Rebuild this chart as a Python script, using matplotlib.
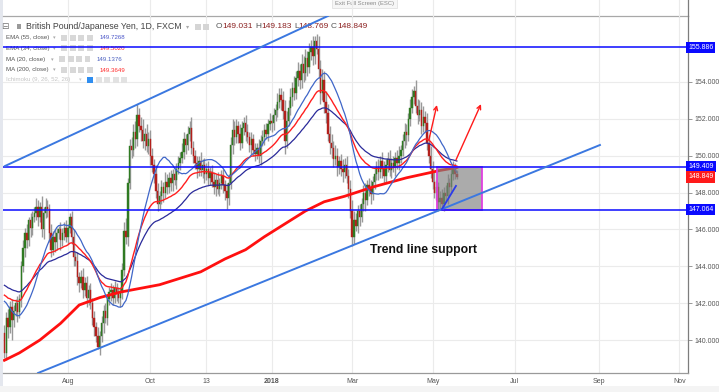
import numpy as np
import pandas as pd
import matplotlib
matplotlib.use("Agg")
import matplotlib.pyplot as plt
from matplotlib.patches import Rectangle, FancyArrowPatch
from matplotlib.lines import Line2D
from matplotlib.transforms import blended_transform_factory

plt.rcParams['font.family'] = ['Liberation Sans', 'DejaVu Sans']

W, H = 719, 392

# daily GBP/JPY bars, one per business day, first bar 2017-06-14
first_day = "2017-06-14"
closes = [
    139.3, 141.2, 140.7, 141.8, 141.1, 141.6, 142.0, 141.5, 142.2, 144.0,
    145.0, 145.8, 145.4, 146.5, 146.1, 146.7, 146.9, 147.2, 146.7, 147.2,
    146.0, 146.9, 147.2, 147.1, 145.8, 144.9, 145.6, 145.3, 145.8, 146.0,
    145.4, 145.8, 146.1, 145.6, 146.1, 146.7, 145.6, 144.5, 144.3, 143.4,
    143.1, 143.4, 142.7, 143.1, 142.3, 142.7, 142.0, 141.2, 140.7, 140.2,
    139.6, 140.2, 140.9, 141.6, 141.2, 142.2, 142.6, 142.7, 142.3, 142.8,
    142.5, 142.3, 142.6, 143.8, 145.9, 145.6, 148.5, 150.5, 150.3, 151.3,
    150.9, 152.2, 151.6, 151.4, 150.8, 151.2, 150.5, 150.9, 150.0, 149.5,
    149.0, 148.1, 147.4, 147.8, 148.3, 148.0, 148.6, 148.3, 148.8, 148.5,
    149.0, 148.7, 149.3, 149.6, 149.9, 150.2, 150.9, 150.6, 151.2, 151.5,
    150.4, 150.0, 149.6, 149.3, 149.7, 149.2, 149.5, 149.0, 149.3, 148.8,
    149.1, 148.6, 148.3, 148.7, 148.2, 148.5, 148.9, 148.4, 148.1, 147.7,
    148.5, 150.6, 151.4, 151.0, 151.6, 151.2, 150.7, 151.5, 151.8, 151.3,
    151.0, 150.6, 150.9, 150.3, 150.1, 150.4, 150.0, 150.8, 151.0, 151.4,
    151.2, 151.7, 151.9, 151.8, 152.2, 152.5, 152.9, 153.3, 153.0, 152.4,
    150.8, 151.9, 152.6, 153.2, 153.7, 153.4, 154.2, 154.6, 154.1, 155.0,
    154.5, 155.3, 154.8, 155.6, 155.9, 155.4, 156.2, 155.8, 154.7, 153.4,
    154.1, 152.9, 152.3, 151.2, 150.7, 150.4, 149.8, 150.0, 149.4, 149.7,
    149.3, 149.1, 149.5, 148.9, 148.2, 147.0, 145.6, 146.5, 146.2, 147.0,
    146.7, 147.4, 148.0, 147.6, 148.4, 148.2, 147.9, 148.6, 149.0, 149.4,
    149.1, 149.7, 149.3, 148.9, 149.5, 149.8, 149.2, 149.6, 149.4, 149.9,
    149.6, 150.0, 150.3, 150.8, 151.3, 151.1, 152.0, 152.6, 153.2, 153.5,
    152.7, 152.2, 152.5, 151.6, 152.1, 151.8, 150.7, 150.0, 149.3, 148.6,
    148.0, 148.3, 147.5, 147.7, 147.4, 148.0, 147.8, 148.5, 148.3, 149.0,
    149.3, 149.03, 148.849,
]
# wick lengths in tenths of a yen
upper_wick = [
    4, 3, 5, 3, 4, 3, 2, 4, 3, 3,   4, 3, 5, 2, 4, 3, 3, 5, 4, 3,
    6, 3, 5, 4, 3, 5, 3, 4, 3, 2,   4, 3, 3, 4, 2, 2, 3, 4, 3, 5,
    3, 4, 5, 3, 4, 3, 4, 3, 4, 3,   5, 3, 4, 3, 4, 2, 3, 4, 3, 4,
    3, 4, 3, 4, 5, 7, 3, 4, 5, 4,   6, 6, 4, 5, 6, 3, 5, 4, 5, 4,
    3, 5, 4, 3, 4, 3, 5, 4, 3, 4,   3, 4, 3, 4, 3, 5, 4, 3, 4, 4,
    6, 4, 3, 4, 3, 5, 3, 4, 3, 4,   3, 4, 5, 3, 4, 3, 3, 4, 3, 4,
    5, 4, 6, 5, 4, 3, 5, 4, 3, 4,   4, 3, 4, 3, 4, 3, 5, 3, 4, 3,
    4, 3, 4, 3, 4, 3, 5, 4, 4, 5,   6, 5, 4, 5, 3, 6, 4, 5, 4, 5,
    4, 5, 4, 5, 4, 6, 3, 4, 7, 5,   6, 5, 6, 5, 4, 5, 4, 6, 4, 3,
    4, 5, 4, 5, 4, 5, 6, 5, 4, 3,   4, 3, 4, 5, 3, 4, 5, 3, 4, 3,
    4, 3, 5, 4, 3, 4, 5, 3, 4, 3,   4, 5, 3, 4, 5, 4, 3, 5, 4, 3,
    6, 4, 5, 4, 6, 3, 5, 4, 5, 4,   5, 4, 3, 4, 5, 3, 4, 5, 3, 4,
    4, 3, 2,
]
lower_wick = [
    3, 4, 6, 3, 11, 4, 3, 5, 3, 4,  3, 5, 4, 3, 5, 4, 3, 4, 5, 3,
    4, 5, 3, 4, 5, 4, 3, 5, 4, 3,   5, 3, 4, 3, 4, 3, 4, 5, 3, 4,
    5, 3, 4, 3, 5, 4, 3, 4, 5, 3,   1, 4, 3, 5, 3, 4, 3, 5, 4, 3,
    4, 3, 5, 4, 3, 4, 5, 3, 4, 3,   5, 4, 3, 6, 4, 5, 3, 4, 5, 4,
    5, 4, 4, 3, 4, 5, 3, 4, 3, 4,   4, 3, 5, 3, 4, 3, 4, 5, 3, 4,
    3, 4, 3, 5, 4, 3, 4, 5, 3, 4,   4, 3, 4, 5, 3, 4, 3, 4, 5, 6,
    4, 3, 5, 4, 3, 5, 4, 3, 4, 5,   3, 4, 5, 3, 4, 3, 4, 5, 3, 4,
    3, 4, 3, 5, 4, 3, 4, 3, 5, 4,   7, 4, 3, 4, 5, 4, 3, 4, 5, 4,
    5, 4, 5, 3, 4, 5, 4, 3, 5, 6,   4, 6, 5, 4, 6, 5, 4, 3, 5, 4,
    4, 5, 3, 4, 5, 4, 5, 4, 3, 4,   5, 3, 4, 6, 3, 4, 5, 3, 4, 3,
    4, 3, 5, 4, 3, 4, 3, 4, 3, 5,   3, 4, 4, 3, 4, 5, 3, 4, 3, 4,
    4, 5, 3, 4, 3, 5, 4, 4, 5, 4,   3, 4, 5, 4, 3, 4, 3, 4, 5, 3,
    3, 3, 1,
]
# closes of the bars just left of the window, only used to start the averages
warmup = [144.2, 143.1, 144.0, 144.3, 144.0, 144.1, 143.4, 142.6, 142.2, 142.0,
          142.2, 142.7, 141.9, 141.7, 141.3, 141.5, 141.2, 140.1, 140.0, 140.4]

# 200-day MA (bar number, price)
ma200_bar = [0, 8, 19, 30, 40, 51, 62, 83, 105, 118, 129, 139, 150, 161, 171, 182, 197, 215, 233, 242]
ma200_val = [138.9, 139.3, 140.0, 140.9, 141.9, 142.3, 142.6, 143.0, 143.7, 144.4,
             144.9, 145.6, 146.3, 147.0, 147.5, 147.8, 148.3, 148.8, 149.2, 149.36]

levels = [155.886, 149.409, 147.064]
last_close = 148.849
price_ticks = [140, 142, 144, 146, 148, 150, 152, 154]
time_ticks = ["2017-08-01", "2017-10-02", "2017-11-13", "2018-01-01", "2018-03-01",
              "2018-05-01", "2018-07-02", "2018-09-03", "2018-11-01"]
time_labels = ["Aug", "Oct", "13", "2018", "Mar", "May", "Jul", "Sep", "Nov"]

# drawings on the chart (bar number, price)
channel_upper = [(0.3, 149.44), (173.0, 157.58)]
channel_lower = [(18.0, 138.21), (318.5, 150.58)]
box = [(231.3, 147.064), (255.4, 149.409)]
box_line = [(234.0, 147.1), (241.5, 148.36)]
arrows = [[(227.0, 150.85), (231.3, 152.75)], [(241.5, 149.77), (254.9, 152.8)]]
note_pos = (195.5, 144.9)

legend_rows = [
    ("EMA (55, close)", "149.7268", "#4a55c8"),
    ("EMA (34, close)", "149.5020", "#ff2a2a"),
    ("MA (20, close)", "149.1376", "#4a5fbf"),
    ("MA (200, close)", "149.3649", "#ff2a2a"),
]

# ---------------------------------------------------------------
n = len(closes)
x = np.arange(n)
c = np.array(closes)
o = np.array([warmup[-1]] + closes[:-1])
hi = np.maximum(o, c) + np.array(upper_wick) / 10
lo = np.minimum(o, c) - np.array(lower_wick) / 10

allc = pd.Series(warmup + closes)
k = len(warmup)
ema55 = allc.ewm(span=55, adjust=False).mean().values[k:]
ema34 = allc.ewm(span=34, adjust=False).mean().values[k:]
ma20 = allc.rolling(20, min_periods=1).mean().values[k:]

fig = plt.figure(figsize=(W / 100, H / 100), dpi=100)
fig.patch.set_facecolor("white")
ax = fig.add_axes([3 / W, 19 / H, 685 / W, 357 / H])
ax.set_facecolor("white")
ax.set_xlim(-0.75, 365.6)
ax.set_ylim(138.21, 157.58)

tick_pos = [np.busday_count(first_day, d) for d in time_ticks]
ax.set_xticks(tick_pos)
ax.set_xticklabels(time_labels)
ax.get_xticklabels()[3].set_fontweight("bold")
ax.yaxis.tick_right()
ax.set_yticks(price_ticks)
ax.set_yticklabels([f"{v:.3f}" for v in price_ticks])
ax.tick_params(axis="x", length=0, labelsize=5, labelcolor="#555555", pad=3.5)
ax.tick_params(axis="y", length=3, width=0.6, color="#888888", labelsize=5,
               labelcolor="#555555", pad=2)
ax.grid(True, color="#ebebeb", lw=0.8)
ax.set_axisbelow(True)
ax.spines["left"].set_visible(False)
ax.spines["right"].set_color("#7d7d7d")
ax.spines["bottom"].set_color("#9a9a9a")
ax.spines["top"].set_color("#a8a8a8")
for s in ["right", "bottom", "top"]:
    ax.spines[s].set_linewidth(0.9)

# candles
up = c >= o
body_col = np.where(up, "#2f7a22", "#b3201c")
ax.vlines(x, lo, hi, color="#999999", lw=1.0, zorder=2)
ax.bar(x, np.maximum(np.abs(c - o), 0.03), bottom=np.minimum(o, c), width=0.75,
       color=body_col, edgecolor=body_col, lw=0.3, zorder=2.1)

# moving averages
ax.plot(ma200_bar, ma200_val, color="#ff1010", lw=2.0, zorder=3)
ax.plot(x, ema55, color="#2a2a9a", lw=0.9, zorder=3)
ax.plot(x, ema34, color="#ff1f1f", lw=1.0, zorder=3)
ax.plot(x, ma20, color="#3f66c8", lw=0.9, zorder=3)

# drawings
(bx0, by0), (bx1, by1) = box
ax.add_patch(Rectangle((bx0, by0), bx1 - bx0, by1 - by0, fc="#7f7f7f", alpha=0.65,
                       ec="none", zorder=4))
ax.add_patch(Rectangle((bx0, by0), bx1 - bx0, by1 - by0, fc="none", ec="#e040e0",
                       lw=1.3, zorder=4.1))
for lv in levels:
    ax.axhline(lv, color="#0a0aff", lw=1.1, zorder=5)
for pts in (channel_upper, channel_lower):
    ax.plot([p[0] for p in pts], [p[1] for p in pts], color="#3b78e0", lw=1.4, zorder=5)
ax.plot([p[0] for p in box_line], [p[1] for p in box_line], color="#2b3bea", lw=1.3, zorder=5)
for a, b in arrows:
    ax.add_patch(FancyArrowPatch(a, b, arrowstyle="->", mutation_scale=7, color="#ff1a1a",
                                 lw=1.0, zorder=6, shrinkA=0, shrinkB=0))
ax.text(note_pos[0], note_pos[1], "Trend line support", fontsize=8.8, fontweight="bold",
        color="#111111", ha="left", va="center", zorder=6)

# price labels on the axis
bt = blended_transform_factory(ax.transAxes, ax.transData)
for lv, col in [(levels[0], "#0a0aff"), (levels[1], "#0a0aff"), (last_close, "#ff1a1a"),
                (levels[2], "#0a0aff")]:
    ax.text(1.0, lv, f"{lv:.3f}", transform=bt, fontsize=5, color="white", ha="left",
            va="center", clip_on=False, zorder=10,
            bbox=dict(boxstyle="square,pad=0.3", fc=col, ec="none"))


# ---------------- header / legend ----------------
def fx(px):
    return px / W


def fy(py):
    return 1 - py / H


def ftext(px, py, s, **kw):
    kw.setdefault("va", "center")
    kw.setdefault("ha", "left")
    ax.text(fx(px), fy(py), s, transform=fig.transFigure, clip_on=False, **kw)


def fbox(px, py, w, h, **kw):
    ax.add_patch(Rectangle((fx(px), fy(py + h)), w / W, h / H, transform=fig.transFigure,
                           clip_on=False, **kw))


fbox(0, 0, 3, 392, fc="#e4e7ee", ec="none", zorder=0)
fbox(0, 386, 719, 6, fc="#f4f4f4", ec="none", zorder=0)

# grid lines and price-axis border carried up into the header strip
for tp in tick_pos:
    xf = ax.transData.transform((tp, 150))[0] / W
    fig.add_artist(Line2D([xf, xf], [fy(16), 1.0], color="#ebebeb", lw=0.8, zorder=0.5))
fig.add_artist(Line2D([fx(688), fx(688)], [fy(16), 1.0], color="#7d7d7d", lw=0.9, zorder=0.5))

fbox(332, -1, 65, 9, fc="#f6f6f6", ec="#dddddd", lw=0.5, zorder=1)
ftext(364.5, 3.8, "Exit Full Screen (ESC)", fontsize=4.2, color="#8a8a8a", ha="center", zorder=2)

ftext(1, 26.5, "\u229f", fontsize=6.5, color="#777777", family=["DejaVu Sans"], zorder=1.4)
fbox(17, 24, 4, 5, fc="#9a9a9a", ec="none", zorder=1.4)
ftext(26, 26.5, "British Pound/Japanese Yen, 1D, FXCM", fontsize=6.3, color="#444444", zorder=1.4)
ftext(186, 26.5, "\u25be", fontsize=4.5, color="#aaaaaa", family=["DejaVu Sans"], zorder=1.4)
for bxp in (195, 203):
    fbox(bxp, 23.5, 6, 6, fc="#d5d5d5", ec="none", zorder=1.4)
ohlc = [("O", "149.031", 216), ("H", "149.183", 255), ("L", "148.769", 294), ("C", "148.849", 331)]
for letter, val, px in ohlc:
    ftext(px, 26.5, letter, fontsize=6, color="#555555", zorder=1.4)
    ftext(px + (6.5 if letter in "OHC" else 4.8), 26.5, val, fontsize=6, color="#8b2020", zorder=1.4)

row_y = [37.7, 48.3, 59.3, 70.0]
caret_x = [53, 53, 51, 53]
box_x = [61, 61, 59, 61]
val_x = [100, 100, 97, 100]
for (name, val, col), yy, cx, bx, vx in zip(legend_rows, row_y, caret_x, box_x, val_x):
    ftext(6, yy, name, fontsize=4.4, color="#555555", zorder=1.4)
    ftext(cx, yy, "\u25be", fontsize=3.8, color="#aaaaaa", family=["DejaVu Sans"], zorder=1.4)
    for j in range(4):
        fbox(bx + j * 8.5, yy - 3, 6, 6, fc="#d8d8d8", ec="none", zorder=1.4)
    ftext(vx, yy, val, fontsize=4.4, color=col, zorder=1.4)
ftext(6, 80, "Ichimoku (9, 26, 52, 26)", fontsize=4.4, color="#c4c4c4", zorder=1.4)
ftext(79, 80, "\u25be", fontsize=3.8, color="#cccccc", family=["DejaVu Sans"], zorder=1.4)
for j in range(5):
    fbox(87 + j * 8.5, 77, 6, 6, fc="#2f8ef0" if j == 0 else "#e2e2e2", ec="none", zorder=1.4)

fig.savefig("out.png", dpi=100)
